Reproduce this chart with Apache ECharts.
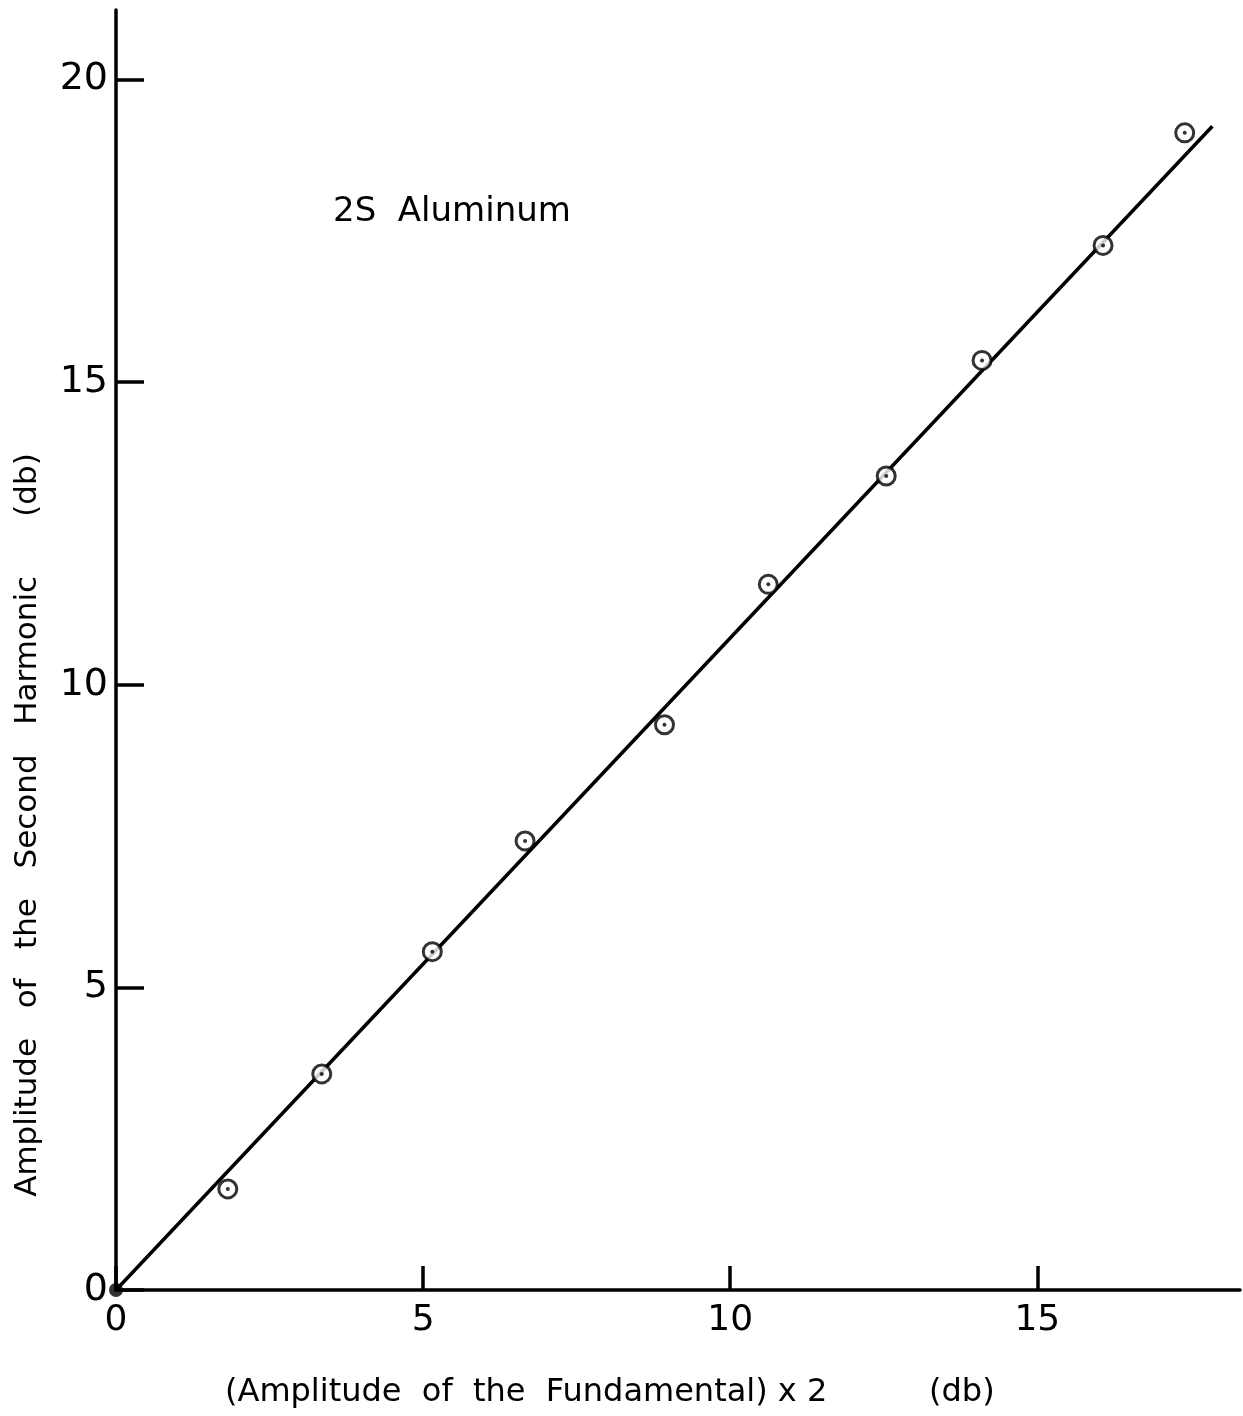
<!DOCTYPE html>
<html>
<head>
<meta charset="utf-8">
<script src="https://cdn.jsdelivr.net/npm/echarts@6/dist/echarts.min.js"></script>
<style>html,body{margin:0;padding:0;background:#fff;}#c{width:1243px;height:1416px;}</style>
</head>
<body>
<div id="c"></div>
<script>
// Data
const fundamentalX2 = [1.82, 3.35, 5.15, 6.66, 8.93, 10.62, 12.54, 14.10, 16.07, 17.40];
const secondHarmonic = [1.67, 3.57, 5.59, 7.42, 9.34, 11.66, 13.45, 15.36, 17.26, 19.12];
const originPoint = [[0, 0]];
const fitLine = [[0, 0], [17.85, 19.23]];
const xTicks = [0, 5, 10, 15];
const yTicks = [0, 5, 10, 15, 20];

const FONT = 'DejaVu Sans';
const points = fundamentalX2.map((x, i) => [x, secondHarmonic[i]]);

const chart = echarts.init(document.getElementById('c'), null, {renderer: 'canvas'});
chart.setOption({
  animation: false,
  backgroundColor: '#fff',
  grid: {left: 116, right: 3, top: 10, bottom: 126, containLabel: false},
  xAxis: {
    type: 'value', min: 0, max: 18.3, interval: 5,
    splitLine: {show: false},
    axisLine: {show: true, onZero: false, lineStyle: {color: '#000', width: 3.5}},
    axisTick: {show: true, inside: true, length: 24, customValues: xTicks, lineStyle: {color: '#000', width: 3.5}},
    axisLabel: {show: true, customValues: xTicks, margin: 13, color: '#000', fontFamily: FONT, fontSize: 36}
  },
  yAxis: {
    type: 'value', min: 0, max: 21.15, interval: 5,
    splitLine: {show: false},
    axisLine: {show: true, onZero: false, lineStyle: {color: '#000', width: 3.5}},
    axisTick: {show: true, inside: true, length: 28, customValues: yTicks, lineStyle: {color: '#000', width: 3.5}},
    axisLabel: {show: true, customValues: yTicks, margin: 8, color: '#000', fontFamily: FONT, fontSize: 38}
  },
  series: [
    {
      type: 'line', data: fitLine, showSymbol: false, symbol: 'none',
      lineStyle: {color: '#000', width: 3.5}, z: 2
    },
    {
      type: 'scatter', data: points, symbol: 'circle', symbolSize: 18,
      itemStyle: {color: '#fff', borderColor: '#000', borderWidth: 3}, z: 3
    },
    {
      type: 'scatter', data: points, symbol: 'circle', symbolSize: 4,
      itemStyle: {color: '#000'}, z: 4
    },
    {
      type: 'scatter', data: originPoint, symbol: 'circle', symbolSize: 14,
      itemStyle: {color: '#000'}, z: 4
    }
  ],
  graphic: [
    {
      type: 'text', left: 333, top: 195,
      style: {text: '2S  Aluminum', fontFamily: FONT, fontSize: 34, fill: '#000'}
    },
    {
      type: 'text', x: 28, y: 825, rotation: Math.PI / 2,
      style: {text: 'Amplitude   of   the   Second   Harmonic      (db)', fontFamily: FONT, fontSize: 31,
        fill: '#000', align: 'center', verticalAlign: 'middle'}
    },
    {
      type: 'text', x: 225, y: 1393,
      style: {text: '(Amplitude  of  the  Fundamental) x 2          (db)', fontFamily: FONT, fontSize: 32,
        fill: '#000', align: 'left', verticalAlign: 'middle'}
    }
  ]
});
</script>
</body>
</html>
